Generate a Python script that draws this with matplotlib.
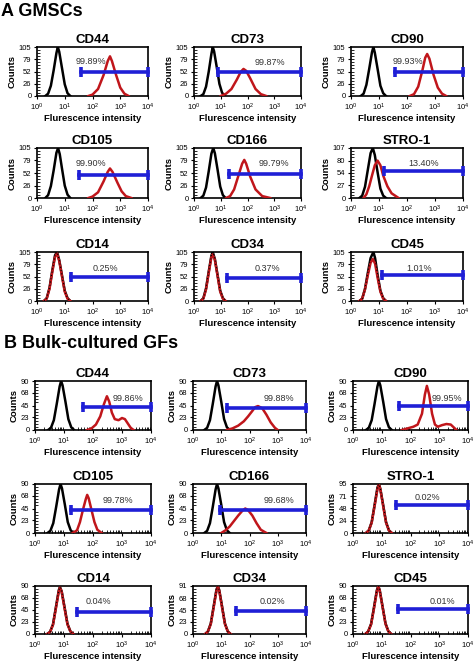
import numpy as np
import matplotlib
matplotlib.use("Agg")
import matplotlib.pyplot as plt

plt.rcParams['font.family'] = ['Liberation Sans', 'DejaVu Sans']
plt.rcParams['mathtext.default'] = 'regular'

# ---- data (x values as log10 of fluorescence intensity) ----
markers = ['CD44', 'CD73', 'CD90', 'CD105', 'CD166', 'STRO-1', 'CD14', 'CD34', 'CD45']

# A: GMSCs
gmsc_pct = ['99.89%', '99.87%', '99.93%', '99.90%', '99.79%', '13.40%', '0.25%', '0.37%', '1.01%']
gmsc_yticks = [[0, 26, 52, 79, 105]] * 5 + [[0, 27, 54, 80, 107]] + [[0, 26, 52, 79, 105]] * 3
gmsc_gate_log = [1.6, 0.9, 1.57, 1.5, 1.3, 1.18, 1.22, 1.23, 1.1]
gmsc_gate_y = [52, 52, 52, 48, 50, 58, 51, 49, 55]
gmsc_text_log = [1.95, 2.85, 2.05, 1.95, 3.0, 2.6, 2.45, 2.75, 2.45]
gmsc_text_y = [73, 72, 73, 72, 72, 74, 69, 69, 70]
gmsc_overlap = [False, False, False, False, False, False, True, True, True]

gmsc_iso_x = [
    [0.3, 0.4, 0.5, 0.6, 0.7, 0.75, 0.8, 0.9, 1.0, 1.1, 1.2],
    [0.25, 0.35, 0.45, 0.55, 0.65, 0.7, 0.75, 0.85, 0.95, 1.05, 1.15],
    [0.35, 0.45, 0.55, 0.65, 0.75, 0.8, 0.85, 0.95, 1.05, 1.15, 1.25],
    [0.3, 0.4, 0.5, 0.6, 0.7, 0.76, 0.82, 0.9, 1.0, 1.1, 1.2],
    [0.25, 0.35, 0.45, 0.55, 0.65, 0.72, 0.78, 0.88, 0.98, 1.08, 1.18],
    [0.3, 0.4, 0.5, 0.6, 0.7, 0.78, 0.85, 0.95, 1.05, 1.15, 1.25],
    [0.25, 0.35, 0.45, 0.55, 0.65, 0.72, 0.8, 0.9, 1.0, 1.1, 1.2],
    [0.25, 0.35, 0.45, 0.55, 0.65, 0.7, 0.78, 0.88, 0.98, 1.08, 1.18],
    [0.3, 0.4, 0.5, 0.6, 0.7, 0.8, 0.86, 0.95, 1.05, 1.15, 1.25],
]
gmsc_iso_y = [
    [0, 5, 22, 55, 92, 105, 95, 60, 25, 6, 0],
    [0, 4, 20, 52, 90, 105, 96, 62, 26, 7, 0],
    [0, 5, 24, 58, 94, 105, 93, 58, 22, 6, 0],
    [0, 6, 25, 58, 95, 105, 92, 62, 26, 7, 0],
    [0, 5, 22, 56, 93, 105, 94, 60, 24, 6, 0],
    [0, 5, 24, 60, 96, 107, 92, 55, 20, 5, 0],
    [0, 6, 28, 65, 98, 105, 88, 55, 22, 6, 0],
    [0, 6, 27, 63, 97, 105, 90, 56, 22, 6, 0],
    [0, 5, 26, 60, 92, 105, 92, 56, 22, 6, 0],
]
gmsc_stain_x = [
    [1.85, 2.0, 2.2, 2.4, 2.55, 2.63, 2.7, 2.85, 3.0, 3.15, 3.3],
    [1.0, 1.2, 1.4, 1.6, 1.75, 1.85, 1.95, 2.1, 2.3, 2.5, 2.7],
    [2.1, 2.25, 2.4, 2.55, 2.65, 2.72, 2.8, 2.95, 3.1, 3.25, 3.4],
    [1.85, 2.0, 2.2, 2.4, 2.55, 2.63, 2.72, 2.9, 3.05, 3.2, 3.4],
    [1.2, 1.35, 1.5, 1.65, 1.8, 1.88, 1.95, 2.1, 2.3, 2.55, 2.85],
    [0.45, 0.55, 0.65, 0.75, 0.85, 0.95, 1.05, 1.15, 1.3, 1.45, 1.7],
    [0.25, 0.35, 0.45, 0.55, 0.65, 0.72, 0.8, 0.9, 1.0, 1.1, 1.2],
    [0.25, 0.35, 0.45, 0.55, 0.65, 0.7, 0.78, 0.88, 0.98, 1.08, 1.18],
    [0.3, 0.4, 0.5, 0.6, 0.7, 0.78, 0.86, 0.95, 1.05, 1.15, 1.25],
]
gmsc_stain_y = [
    [0, 3, 15, 45, 75, 85, 75, 45, 18, 5, 0],
    [0, 5, 15, 35, 52, 58, 54, 38, 15, 4, 0],
    [0, 4, 20, 55, 82, 90, 80, 45, 18, 5, 0],
    [0, 3, 12, 35, 55, 62, 55, 32, 14, 4, 0],
    [0, 4, 18, 45, 72, 80, 72, 45, 18, 4, 0],
    [0, 8, 25, 48, 70, 80, 70, 48, 25, 10, 0],
    [0, 5, 26, 62, 95, 102, 86, 53, 20, 5, 0],
    [0, 5, 25, 60, 94, 100, 88, 54, 20, 5, 0],
    [0, 5, 25, 55, 82, 90, 80, 50, 20, 5, 0],
]

# B: bulk-cultured GFs
bulk_pct = ['99.86%', '99.88%', '99.95%', '99.78%', '99.68%', '0.02%', '0.04%', '0.02%', '0.01%']
bulk_yticks = [[0, 23, 45, 68, 90]] * 5 + [[0, 24, 48, 71, 95]] + [[0, 23, 45, 68, 90],
                                                                    [0, 23, 45, 68, 91],
                                                                    [0, 23, 45, 68, 90]]
bulk_gate_log = [1.66, 1.2, 1.6, 1.24, 0.95, 1.5, 1.45, 1.52, 1.57]
bulk_gate_y = [43, 41, 44, 42, 42, 54, 42, 43, 47]
bulk_text_log = [3.2, 3.05, 3.25, 2.85, 3.05, 2.6, 2.2, 2.8, 3.1]
bulk_text_y = [58, 58, 57, 60, 60, 68, 61, 61, 61]
bulk_overlap = [False, False, False, False, False, True, True, True, True]

bulk_iso_x = [
    [0.45, 0.55, 0.65, 0.75, 0.85, 0.9, 0.95, 1.05, 1.15, 1.25, 1.35],
    [0.4, 0.5, 0.6, 0.7, 0.8, 0.85, 0.9, 1.0, 1.1, 1.2, 1.3],
    [0.45, 0.55, 0.65, 0.75, 0.85, 0.9, 0.95, 1.05, 1.15, 1.25, 1.35],
    [0.43, 0.53, 0.63, 0.73, 0.83, 0.88, 0.93, 1.03, 1.13, 1.23, 1.33],
    [0.4, 0.5, 0.6, 0.7, 0.8, 0.85, 0.9, 1.0, 1.1, 1.2, 1.3],
    [0.45, 0.55, 0.65, 0.75, 0.85, 0.9, 0.95, 1.05, 1.15, 1.25, 1.35],
    [0.42, 0.52, 0.62, 0.72, 0.82, 0.86, 0.92, 1.02, 1.12, 1.22, 1.32],
    [0.43, 0.53, 0.63, 0.73, 0.83, 0.88, 0.93, 1.03, 1.13, 1.23, 1.33],
    [0.43, 0.53, 0.63, 0.73, 0.83, 0.88, 0.93, 1.03, 1.13, 1.23, 1.33],
]
bulk_iso_y = [
    [0, 4, 18, 48, 80, 90, 82, 52, 20, 5, 0],
    [0, 4, 18, 48, 80, 90, 82, 52, 20, 5, 0],
    [0, 4, 18, 48, 80, 90, 82, 52, 20, 5, 0],
    [0, 4, 18, 48, 80, 90, 82, 52, 20, 5, 0],
    [0, 4, 18, 48, 80, 90, 82, 52, 20, 5, 0],
    [0, 5, 21, 54, 88, 95, 86, 54, 21, 5, 0],
    [0, 4, 18, 50, 82, 88, 80, 50, 19, 5, 0],
    [0, 5, 20, 52, 84, 91, 83, 52, 20, 5, 0],
    [0, 5, 19, 50, 82, 90, 82, 51, 20, 5, 0],
]
bulk_stain_x = [
    [1.8, 1.95, 2.1, 2.25, 2.38, 2.48, 2.56, 2.65, 2.75, 2.88, 3.0, 3.1, 3.2, 3.3, 3.4],
    [1.2, 1.4, 1.6, 1.8, 1.95, 2.1, 2.2, 2.3, 2.45, 2.6, 2.75, 2.9, 3.0],
    [1.7, 1.9, 2.1, 2.25, 2.4, 2.5, 2.57, 2.65, 2.75, 2.85, 2.95, 3.1, 3.25, 3.4, 3.5, 3.6],
    [1.3, 1.45, 1.55, 1.65, 1.75, 1.8, 1.85, 1.95, 2.05, 2.15, 2.3],
    [1.0, 1.15, 1.3, 1.45, 1.6, 1.75, 1.85, 1.95, 2.1, 2.25, 2.4, 2.6],
    [0.45, 0.55, 0.65, 0.75, 0.85, 0.9, 0.95, 1.05, 1.15, 1.25, 1.35],
    [0.42, 0.52, 0.62, 0.72, 0.82, 0.86, 0.92, 1.02, 1.12, 1.22, 1.32],
    [0.43, 0.53, 0.63, 0.73, 0.83, 0.88, 0.93, 1.03, 1.13, 1.23, 1.33],
    [0.43, 0.53, 0.63, 0.73, 0.83, 0.88, 0.93, 1.03, 1.13, 1.23, 1.33],
]
bulk_stain_y = [
    [0, 3, 10, 25, 48, 62, 52, 32, 20, 18, 22, 20, 12, 4, 0],
    [0, 3, 8, 16, 25, 35, 42, 44, 40, 28, 14, 4, 0],
    [0, 3, 6, 10, 30, 65, 81, 65, 30, 10, 6, 9, 11, 10, 5, 0],
    [0, 5, 20, 42, 62, 70, 64, 42, 20, 6, 0],
    [0, 5, 12, 22, 32, 41, 45, 42, 32, 18, 6, 0],
    [0, 5, 20, 52, 85, 94, 85, 52, 20, 5, 0],
    [0, 4, 17, 48, 80, 87, 79, 48, 18, 5, 0],
    [0, 5, 19, 50, 82, 90, 82, 50, 19, 5, 0],
    [0, 5, 18, 48, 80, 89, 81, 50, 19, 5, 0],
]

RED = '#c0161b'
BLUE = '#1f1fd6'

W, H = 474, 662
fig = plt.figure(figsize=(W / 100, H / 100), dpi=100)

rows_a = [(47, 96), (148, 198), (252, 301)]
cols_a = [(37, 148), (194, 301), (351, 463)]
rows_b = [(381, 430), (484, 533), (586, 634)]
cols_b = [(35, 151), (193, 306), (353, 468)]


def draw_panel(ax, name, yt, ix, iy, sx, sy, glog, gy, tlog, ty, pct, overlap):
    ax.plot(10 ** np.array(ix), iy, color='black', lw=1.8, zorder=2)
    ax.plot(10 ** np.array(sx), sy, color=RED, lw=1.8, zorder=3)
    if overlap:
        ax.plot(10 ** np.array(ix), iy, color='black', lw=0.8, ls=(0, (1, 2)), zorder=4)
    ax.plot([10 ** glog, 1e4], [gy, gy], color=BLUE, lw=2.6, marker='|',
            markersize=7, mew=2.6, clip_on=False, zorder=5)
    ax.text(10 ** tlog, ty, pct, ha='center', va='center', fontsize=6.5, color='#333333')
    ax.set_xscale('log')
    ax.set_xlim(1, 1e4)
    ax.set_ylim(0, yt[-1])
    ax.set_xticks([1, 10, 100, 1000, 10000])
    ax.set_xticklabels(['$10^{%d}$' % k for k in range(5)])
    ax.set_yticks(yt)
    ax.set_yticks(np.linspace(0, yt[-1], 17), minor=True)
    ax.tick_params(axis='both', which='major', labelsize=5.5, length=2.5, width=0.8, pad=1.5)
    ax.tick_params(axis='both', which='minor', direction='in', length=2, width=0.6)
    ax.yaxis.set_minor_formatter(matplotlib.ticker.NullFormatter())
    for sp in ax.spines.values():
        sp.set_linewidth(1.2)
    ax.set_title(name, fontsize=9.5, fontweight='bold', pad=3)
    ax.set_xlabel('Flurescence intensity', fontsize=6.8, fontweight='bold', labelpad=0.5)
    ax.set_ylabel('Counts', fontsize=6.8, fontweight='bold', labelpad=1.5)


def section(rows, cols, yticks, ix, iy, sx, sy, glog, gy, tlog, ty, pct, overlap):
    for i in range(9):
        t, b = rows[i // 3]
        l, r = cols[i % 3]
        ax = fig.add_axes([l / W, 1 - b / H, (r - l) / W, (b - t) / H])
        draw_panel(ax, markers[i], yticks[i], ix[i], iy[i], sx[i], sy[i],
                   glog[i], gy[i], tlog[i], ty[i], pct[i], overlap[i])


section(rows_a, cols_a, gmsc_yticks, gmsc_iso_x, gmsc_iso_y, gmsc_stain_x, gmsc_stain_y,
        gmsc_gate_log, gmsc_gate_y, gmsc_text_log, gmsc_text_y, gmsc_pct, gmsc_overlap)
section(rows_b, cols_b, bulk_yticks, bulk_iso_x, bulk_iso_y, bulk_stain_x, bulk_stain_y,
        bulk_gate_log, bulk_gate_y, bulk_text_log, bulk_text_y, bulk_pct, bulk_overlap)

fig.text(1 / W, 1 - 11 / H, 'A GMSCs', fontsize=13, fontweight='bold', va='center', ha='left')
fig.text(4 / W, 1 - 343 / H, 'B Bulk-cultured GFs', fontsize=13, fontweight='bold',
         va='center', ha='left')

fig.savefig('out.png', dpi=100)
